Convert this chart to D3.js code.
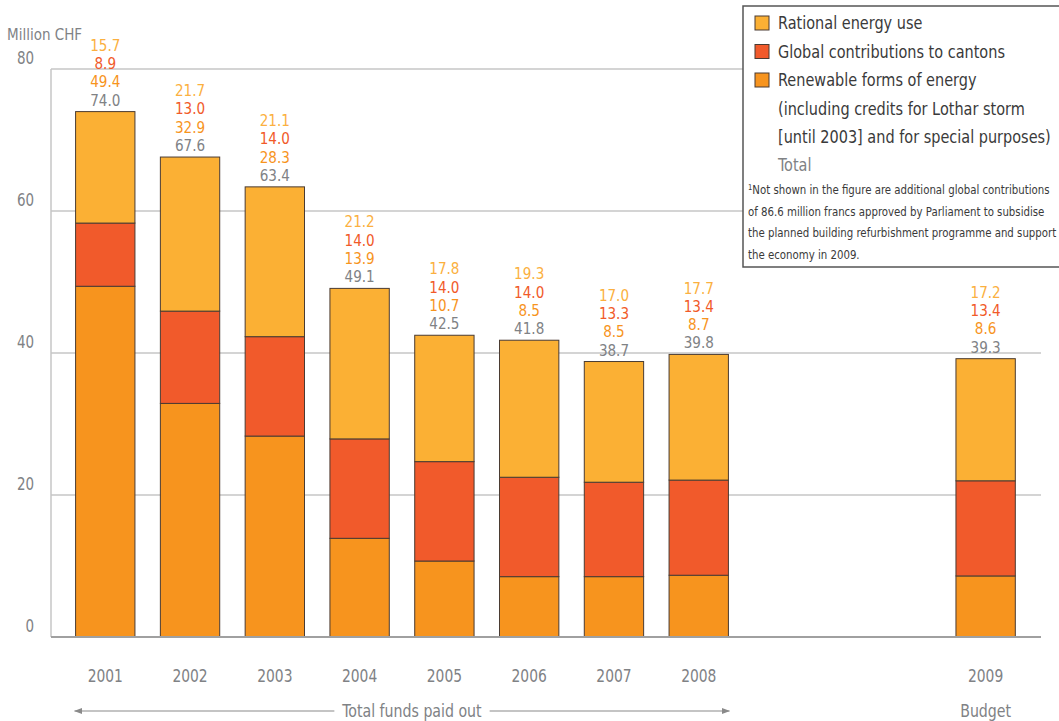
<!DOCTYPE html>
<html>
<head>
<meta charset="utf-8">
<script src="https://cdn.jsdelivr.net/npm/d3@7/dist/d3.min.js"></script>
<style>
  html, body { margin: 0; padding: 0; background: #fff; overflow: hidden; }
  svg { display: block; }
  text { font-family: "Liberation Sans Narrow", "DejaVu Sans Condensed", "Open Sans", sans-serif; }
</style>
</head>
<body>
<svg id="chart" width="1059" height="721"></svg>
<script>
// Energy programme funding, million CHF
const paidYears = ["2001", "2002", "2003", "2004", "2005", "2006", "2007", "2008"];
const budgetYears = ["2009"];
const years = paidYears.concat(budgetYears);
const rational = [15.7, 21.7, 21.1, 21.2, 17.8, 19.3, 17.0, 17.7, 17.2];
const cantons = [8.9, 13.0, 14.0, 14.0, 14.0, 14.0, 13.3, 13.4, 13.4];
const renewable = [49.4, 32.9, 28.3, 13.9, 10.7, 8.5, 8.5, 8.7, 8.6];
const totals = [74.0, 67.6, 63.4, 49.1, 42.5, 41.8, 38.7, 39.8, 39.3];
const yTicks = [0, 20, 40, 60, 80];

const legendItems = [
  { key: "rational", lines: ["Rational energy use"] },
  { key: "cantons", lines: ["Global contributions to cantons"] },
  { key: "renewable", lines: ["Renewable forms of energy", "(including credits for Lothar storm", "[until 2003] and for special purposes)"] }
];
const footnote = [
  "Not shown in the figure are additional global contributions",
  "of 86.6 million francs approved by Parliament to subsidise",
  "the planned building refurbishment programme and support",
  "the economy in 2009."
];

const fills = { rational: "#FBB034", cantons: "#F15A2B", renewable: "#F7941E" };
const labelColors = { rational: "#FBB040", cantons: "#F15A29", renewable: "#F7941D", total: "#808285" };
const grey = "#808285";
const narrow = 0.88; // horizontal squeeze giving a condensed face

const svg = d3.select("#chart");

const y = d3.scaleLinear().domain([0, 80]).range([637, 69]);
const xPaid = d3.scaleBand().domain(paidYears).range([51, 753]).paddingInner(0.3).paddingOuter(0.29);
const xBudget = d3.scaleBand().domain(budgetYears).range([931.4, 1039.8]).paddingInner(0.3).paddingOuter(0.29);
const xPos = yr => paidYears.includes(yr) ? xPaid(yr) : xBudget(yr);
const bw = xPaid.bandwidth();

// text placed at (x, y) with a condensed look
function condText(parent, x, yy, str, opts) {
  const o = Object.assign({ size: 17, fill: grey, anchor: "middle", sx: narrow }, opts || {});
  return parent.append("text")
    .attr("transform", `translate(${x},${yy}) scale(${o.sx},1)`)
    .attr("text-anchor", o.anchor)
    .attr("fill", o.fill)
    .style("font-size", o.size + "px")
    .text(str);
}

const rows = years.map((yr, i) => ({
  year: yr, rational: rational[i], cantons: cantons[i], renewable: renewable[i], total: totals[i]
}));
const keys = ["renewable", "cantons", "rational"];
const stacked = d3.stack().keys(keys)(rows);

// gridlines
svg.append("g").selectAll("line")
  .data(yTicks.filter(t => t > 0))
  .join("line")
  .attr("x1", 51).attr("x2", 1041)
  .attr("y1", d => y(d)).attr("y2", d => y(d))
  .attr("stroke", "#c6c6c6").attr("stroke-width", 1.5);
// vertical axis line
svg.append("line")
  .attr("x1", 51).attr("x2", 51).attr("y1", y(80)).attr("y2", y(0))
  .attr("stroke", "#c6c6c6").attr("stroke-width", 1.5);

// y tick labels
const yAxis = d3.axisLeft(y).tickValues(yTicks).tickSize(0).tickPadding(0);
const yG = svg.append("g").attr("transform", "translate(34,0)").call(yAxis);
yG.select(".domain").remove();
yG.selectAll("text")
  .attr("dy", "-6px").attr("fill", grey)
  .attr("transform", `scale(${narrow},1)`)
  .style("font-size", "17px")
  .style("font-family", "'Liberation Sans Narrow', 'DejaVu Sans Condensed', sans-serif");

svg.append("text").attr("x", 7).attr("y", 40).attr("fill", grey)
  .style("font-size", "15px").text("Million CHF");

// bars
svg.append("g").selectAll("g")
  .data(stacked)
  .join("g")
  .attr("fill", d => fills[d.key])
  .selectAll("rect")
  .data(d => d)
  .join("rect")
  .attr("x", d => xPos(d.data.year))
  .attr("width", bw)
  .attr("y", d => y(d[1]))
  .attr("height", d => y(d[0]) - y(d[1]))
  .attr("stroke", "#4a3b32").attr("stroke-width", 1);

// baseline
svg.append("line")
  .attr("x1", 51).attr("x2", 1041).attr("y1", y(0)).attr("y2", y(0))
  .attr("stroke", "#a0a0a0").attr("stroke-width", 2);

// value labels above each bar
const labelKeys = ["rational", "cantons", "renewable", "total"];
const lblG = svg.append("g");
rows.forEach(r => {
  const top = y(r.rational + r.cantons + r.renewable);
  const cx = xPos(r.year) + bw / 2;
  labelKeys.forEach((k, j) => {
    condText(lblG, cx, top - 6 - (3 - j) * 18.3, r[k].toFixed(1), { fill: labelColors[k], size: 16.2, sx: 0.93 });
  });
});

// x axis labels
[xPaid, xBudget].forEach(sc => {
  const g = svg.append("g").attr("transform", "translate(0,670)")
    .call(d3.axisBottom(sc).tickSize(0).tickPadding(0));
  g.select(".domain").remove();
  g.selectAll("text").attr("fill", grey).attr("dy", "12px")
    .attr("transform", `scale(${narrow},1)`)
    .style("font-size", "17.5px")
    .style("font-family", "'Liberation Sans Narrow', 'DejaVu Sans Condensed', sans-serif");
});

// "Total funds paid out" arrow spanning the paid years
const arrowY = 711;
svg.append("defs").append("marker").attr("id", "arrowHead").attr("viewBox", "0 0 10 10")
  .attr("refX", 9).attr("refY", 5).attr("markerWidth", 7).attr("markerHeight", 7)
  .attr("orient", "auto")
  .append("path").attr("d", "M0,1.5 L10,5 L0,8.5 Z").attr("fill", "#8a8a8a");
const aStart = xPaid("2001") - 1;
const aEnd = xPaid("2008") + bw + 1;
const midX = (aStart + aEnd) / 2 + 10;
const tfp = condText(svg, midX, arrowY + 6, "Total funds paid out", { size: 17.5, sx: 0.9 });
const halfW = tfp.node().getComputedTextLength() * 0.9 / 2 + 8;
svg.append("line").attr("x1", midX - halfW).attr("x2", aStart).attr("y1", arrowY).attr("y2", arrowY)
  .attr("stroke", "#8a8a8a").attr("stroke-width", 1.2).attr("marker-end", "url(#arrowHead)");
svg.append("line").attr("x1", midX + halfW).attr("x2", aEnd).attr("y1", arrowY).attr("y2", arrowY)
  .attr("stroke", "#8a8a8a").attr("stroke-width", 1.2).attr("marker-end", "url(#arrowHead)");
condText(svg, xBudget("2009") + bw / 2, arrowY + 6, "Budget", { size: 17.5, sx: 0.9 });

// legend: white panel, open on the right where it runs past the chart edge
const lg = svg.append("g");
lg.append("rect").attr("x", 743).attr("y", 6).attr("width", 360).attr("height", 261)
  .attr("fill", "#fff");
lg.append("path").attr("d", "M1103,6 H743 V267 H1103")
  .attr("fill", "none").attr("stroke", "#555").attr("stroke-width", 1.5);
let lineIdx = 0;
const lineH = 28.5;
legendItems.forEach(item => {
  const cy = 23 + lineIdx * lineH;
  lg.append("rect").attr("x", 755).attr("y", cy - 7).attr("width", 14).attr("height", 14)
    .attr("fill", fills[item.key]).attr("stroke", "#4a3b32").attr("stroke-width", 1);
  item.lines.forEach(l => {
    condText(lg, 778, 23 + lineIdx * lineH + 6, l, { size: 18.5, fill: "#3a3a3a", anchor: "start", sx: 0.87 });
    lineIdx++;
  });
});
condText(lg, 778, 23 + lineIdx * lineH + 5, "Total", { size: 18.5, fill: grey, anchor: "start", sx: 0.87 });
const fnStartY = 194;
footnote.forEach((l, i) => {
  const t = lg.append("text")
    .attr("transform", `translate(748,${fnStartY + i * 21.5}) scale(0.945,1)`)
    .attr("fill", "#3a3a3a").style("font-size", "12px");
  if (i === 0) {
    t.append("tspan").attr("dy", "-4").style("font-size", "8px").text("1");
    t.append("tspan").attr("dy", "4").text(l);
  } else {
    t.text(l);
  }
});
</script>
</body>
</html>
